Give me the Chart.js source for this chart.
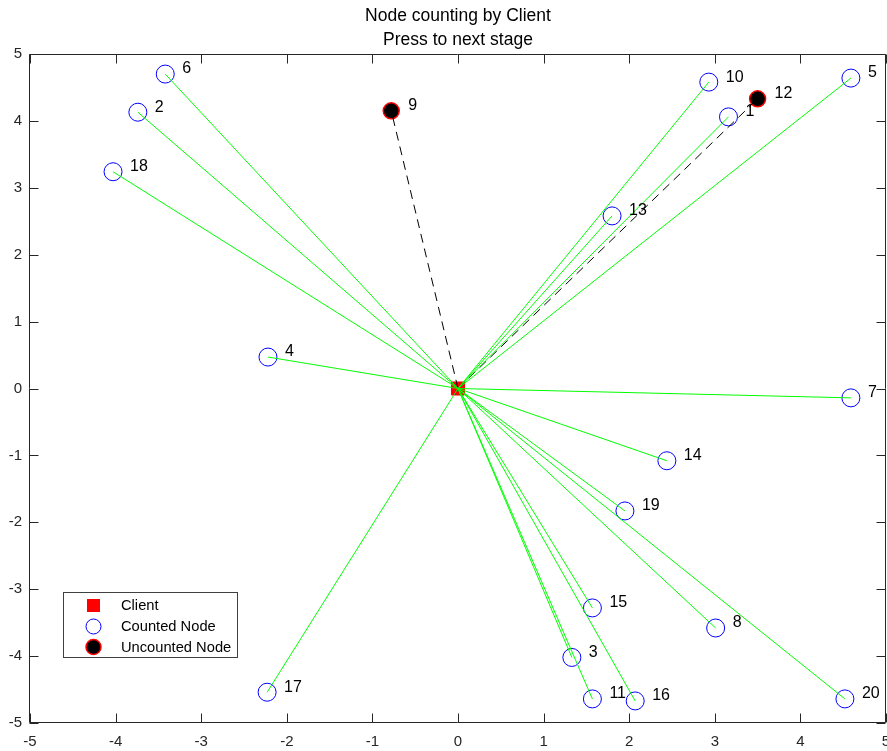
<!DOCTYPE html>
<html>
<head>
<meta charset="utf-8">
<title>Node counting by Client</title>
<script src="https://cdn.jsdelivr.net/npm/chart.js@4.4.1/dist/chart.umd.min.js"></script>
<style>
  html, body { margin: 0; padding: 0; background: #ffffff; }
  canvas { display: block; }
</style>
</head>
<body>
<canvas id="c" width="887" height="751"></canvas>
<script>
// Client position
const clientX = 0;
const clientY = 0;

// Node ids and coordinates
const nodeIds = [1, 2, 3, 4, 5, 6, 7, 8, 9, 10, 11, 12, 13, 14, 15, 16, 17, 18, 19, 20];
const nodeX = [3.16, -3.74, 1.33, -2.22, 4.59, -3.42, 4.59, 3.01, -0.78, 2.93,
               1.57, 3.50, 1.80, 2.44, 1.57, 2.07, -2.23, -4.03, 1.95, 4.52];
const nodeY = [4.06, 4.13, -4.02, 0.47, 4.64, 4.70, -0.14, -3.58, 4.15, 4.58,
               -4.64, 4.33, 2.58, -1.08, -3.28, -4.67, -4.54, 3.24, -1.83, -4.64];
// Nodes not yet counted by the client
const uncountedIds = [9, 12];

// Axis ticks
const tickValues = [-5, -4, -3, -2, -1, 0, 1, 2, 3, 4, 5];

const titleLines = ['Node counting by Client', 'Press to next stage'];
const legendLabels = ['Client', 'Counted Node', 'Uncounted Node'];

const FONT = '"Liberation Sans", Arial, Helvetica, sans-serif';
const AXIS_COLOR = '#262626';

const isCounted = id => !uncountedIds.includes(id);

// One segment per node: client -> node
const edgeDatasets = nodeIds.map((id, i) => ({
  type: 'scatter',
  showLine: true,
  data: [{ x: clientX, y: clientY }, { x: nodeX[i], y: nodeY[i] }],
  borderColor: isCounted(id) ? '#00ff00' : '#000000',
  borderWidth: 1,
  borderDash: isCounted(id) ? [] : [9, 6],
  pointRadius: 0,
  order: 0
}));

const countedPts = [], countedLabels = [];
const uncountedPts = [], uncountedLabels = [];
nodeIds.forEach((id, i) => {
  if (isCounted(id)) { countedPts.push({ x: nodeX[i], y: nodeY[i] }); countedLabels.push(String(id)); }
  else { uncountedPts.push({ x: nodeX[i], y: nodeY[i] }); uncountedLabels.push(String(id)); }
});

const markerDatasets = [
  {
    label: 'Client',
    data: [{ x: clientX, y: clientY }],
    pointStyle: 'rect', pointRadius: 9.2,
    backgroundColor: '#ff0000', borderColor: '#ff0000', borderWidth: 1,
    order: 2
  },
  {
    label: 'Counted Node',
    data: countedPts, nodeLabels: countedLabels,
    pointStyle: 'circle', pointRadius: 9,
    backgroundColor: 'rgba(0,0,0,0)', borderColor: '#0000ff', borderWidth: 1,
    order: 1
  },
  {
    label: 'Uncounted Node',
    data: uncountedPts, nodeLabels: uncountedLabels,
    pointStyle: 'circle', pointRadius: 8,
    backgroundColor: '#000000', borderColor: '#ff0000', borderWidth: 1.5,
    order: 1
  }
];

// Box, inward ticks, title, node labels and legend
const decorations = {
  id: 'decorations',
  afterDatasetsDraw(chart) {
    const ctx = chart.ctx;
    // node number labels
    ctx.save();
    ctx.fillStyle = '#000000';
    ctx.font = '16px ' + FONT;
    ctx.textAlign = 'left';
    ctx.textBaseline = 'middle';
    chart.data.datasets.forEach((ds, di) => {
      if (!ds.nodeLabels) return;
      chart.getDatasetMeta(di).data.forEach((el, k) => {
        ctx.fillText(ds.nodeLabels[k], el.x + 17, el.y - 5);
      });
    });
    ctx.restore();
  },
  afterDraw(chart) {
    const ctx = chart.ctx;
    const a = chart.chartArea;
    const xs = chart.scales.x, ys = chart.scales.y;
    const L = Math.round(a.left) - 0.5, R = Math.round(a.right) - 0.5;
    const T = Math.round(a.top) + 0.5, B = Math.round(a.bottom) - 0.5;
    const tl = 9;
    ctx.save();
    ctx.strokeStyle = AXIS_COLOR;
    ctx.lineWidth = 1;
    ctx.beginPath();
    ctx.rect(L, T, R - L, B - T);
    tickValues.forEach(v => {
      const px = Math.round(xs.getPixelForValue(v)) + 0.5;
      ctx.moveTo(px, B); ctx.lineTo(px, B - tl);
      ctx.moveTo(px, T); ctx.lineTo(px, T + tl);
      const py = Math.round(ys.getPixelForValue(v)) + 0.5;
      ctx.moveTo(L, py); ctx.lineTo(L + tl, py);
      ctx.moveTo(R, py); ctx.lineTo(R - tl, py);
    });
    ctx.stroke();

    // title
    ctx.fillStyle = '#000000';
    ctx.font = '17.5px ' + FONT;
    ctx.textAlign = 'center';
    ctx.textBaseline = 'middle';
    const cx = (a.left + a.right) / 2;
    ctx.fillText(titleLines[0], cx, 16);
    ctx.fillText(titleLines[1], cx, 40);

    // legend
    const bx = 63.5, by = 592.5, bw = 174, bh = 65;
    ctx.fillStyle = '#ffffff';
    ctx.fillRect(bx, by, bw, bh);
    ctx.strokeStyle = '#404040';
    ctx.strokeRect(bx, by, bw, bh);
    const rows = [605.5, 626.5, 647];
    const mx = 93.5;
    markerDatasets.forEach((ds, i) => {
      ctx.save();
      ctx.lineWidth = ds.borderWidth;
      ctx.strokeStyle = ds.borderColor;
      ctx.fillStyle = ds.backgroundColor;
      if (ds.pointStyle === 'rect') {
        ctx.fillRect(mx - 6.5, rows[i] - 6.5, 13, 13);
      } else {
        ctx.beginPath();
        ctx.arc(mx, rows[i], 7.5, 0, Math.PI * 2);
        ctx.fill();
        ctx.stroke();
      }
      ctx.restore();
    });
    ctx.fillStyle = '#000000';
    ctx.font = '14.7px ' + FONT;
    ctx.textAlign = 'left';
    ctx.textBaseline = 'middle';
    legendLabels.forEach((t, i) => ctx.fillText(t, 121, rows[i] + 0.5));
    ctx.restore();
  }
};

new Chart(document.getElementById('c'), {
  type: 'scatter',
  data: { datasets: [...edgeDatasets, ...markerDatasets] },
  options: {
    responsive: false,
    animation: false,
    layout: { autoPadding: false, padding: { top: 54, right: 1, left: 0, bottom: 0 } },
    plugins: { legend: { display: false }, tooltip: { enabled: false }, title: { display: false } },
    scales: {
      x: {
        type: 'linear', min: -5, max: 5,
        afterBuildTicks: s => { s.ticks = tickValues.map(v => ({ value: v })); },
        afterFit: s => { s.height = 28; s.paddingLeft = 0; s.paddingRight = 0; },
        grid: { display: false, drawTicks: false },
        border: { display: false },
        ticks: { color: AXIS_COLOR, font: { family: FONT, size: 15 }, padding: 10, maxRotation: 0, autoSkip: false }
      },
      y: {
        type: 'linear', min: -5, max: 5,
        afterBuildTicks: s => { s.ticks = tickValues.map(v => ({ value: v })); },
        afterFit: s => { s.width = 30; s.paddingTop = 0; s.paddingBottom = 0; },
        grid: { display: false, drawTicks: false },
        border: { display: false },
        ticks: { color: AXIS_COLOR, font: { family: FONT, size: 15 }, padding: 8, autoSkip: false }
      }
    }
  },
  plugins: [decorations]
});
</script>
</body>
</html>
